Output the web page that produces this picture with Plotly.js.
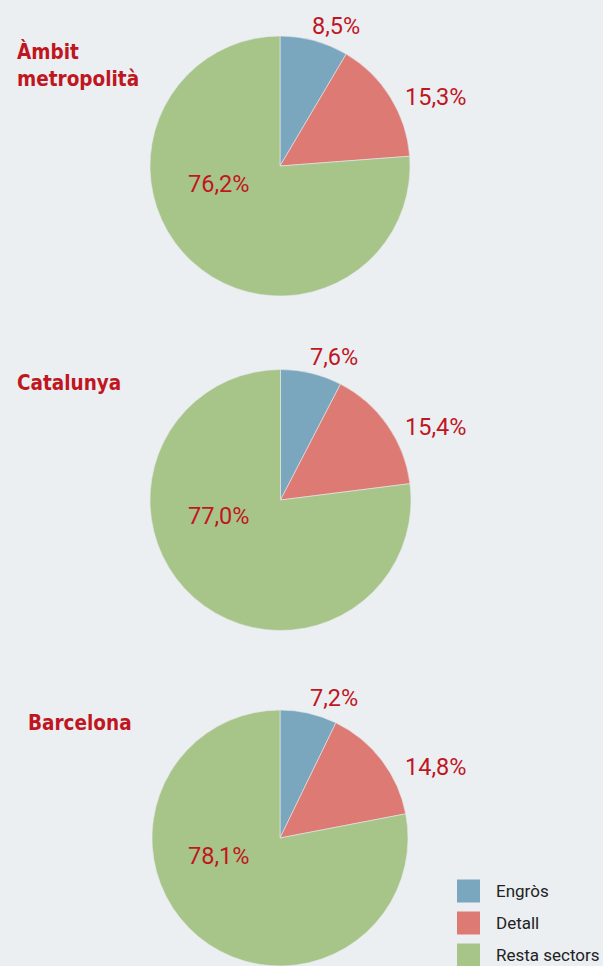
<!DOCTYPE html>
<html><head><meta charset="utf-8">
<script src="https://cdn.plot.ly/plotly-3.0.1.min.js"></script>
<style>html,body{margin:0;padding:0;background:#ebeff2;overflow:hidden}</style>
</head><body><div id="chart" style="width:603px;height:966px"></div>
<script>
const categories = ['Engròs', 'Detall', 'Resta sectors'];
const regions = ['Àmbit<br>metropolità', 'Catalunya', 'Barcelona'];
const metropolitaValues = [8.5, 15.3, 76.2];
const catalunyaValues = [7.6, 15.4, 77.0];
const barcelonaValues = [7.2, 14.8, 78.1];
const colors = ['#7aa7bd', '#de7a74', '#a8c589'];

const W = 603, H = 966;
const seriesList = [metropolitaValues, catalunyaValues, barcelonaValues];
const pieBoxes = [
  {x0: 150, x1: 410, top: 36, bottom: 296},
  {x0: 150, x1: 411, top: 369, bottom: 631},
  {x0: 151, x1: 409, top: 710, bottom: 966}
];
const labelPos = [
  [[336, 26], [435, 97], [218, 184]],
  [[334, 357], [435, 427], [218, 516]],
  [[334, 698], [435, 767], [218, 856]]
];
const titlePos = [[15, 65], [15, 383], [26, 723]];

const red = '#c0161f';
const fmt = v => v.toFixed(1).replace('.', ',') + '%';

const traces = seriesList.map((vals, i) => ({
  type: 'pie',
  values: vals,
  labels: categories,
  sort: false,
  direction: 'clockwise',
  rotation: 0,
  textinfo: 'none',
  hoverinfo: 'label+percent',
  marker: {colors: colors, line: {width: 0.6, color: '#e4e9ec'}},
  showlegend: false,
  domain: {
    x: [pieBoxes[i].x0 / W, pieBoxes[i].x1 / W],
    y: [1 - pieBoxes[i].bottom / H, 1 - pieBoxes[i].top / H]
  }
}));

const annotations = [];
seriesList.forEach((vals, i) => {
  vals.forEach((v, j) => {
    annotations.push({
      xref: 'paper', yref: 'paper',
      x: labelPos[i][j][0] / W, y: 1 - labelPos[i][j][1] / H,
      xanchor: 'center', yanchor: 'middle',
      text: fmt(v), showarrow: false,
      font: {family: 'Roboto, sans-serif', size: 23.5, color: red}
    });
  });
  annotations.push({
    xref: 'paper', yref: 'paper',
    x: titlePos[i][0] / W, y: 1 - titlePos[i][1] / H,
    xanchor: 'left', yanchor: 'middle', align: 'left',
    text: '<b>' + regions[i] + '</b>', showarrow: false,
    font: {family: '"DejaVu Sans Condensed", "DejaVu Sans", sans-serif', size: 20.5, color: red}
  });
});

const shapes = [];
categories.forEach((c, k) => {
  const cy = 891 + k * 32;
  shapes.push({
    type: 'rect', xref: 'paper', yref: 'paper',
    x0: 457 / W, x1: 480 / W, y0: 1 - (cy + 11.5) / H, y1: 1 - (cy - 11.5) / H,
    fillcolor: colors[k], line: {width: 0}
  });
  annotations.push({
    xref: 'paper', yref: 'paper', x: 494 / W, y: 1 - cy / H,
    xanchor: 'left', yanchor: 'middle', text: c, showarrow: false,
    font: {family: 'Roboto, sans-serif', size: 17, color: '#222'}
  });
});

Plotly.newPlot('chart', traces, {
  width: W, height: H,
  margin: {l: 0, r: 0, t: 0, b: 0},
  paper_bgcolor: '#ebeff2',
  plot_bgcolor: '#ebeff2',
  separators: ',.',
  showlegend: false,
  annotations: annotations,
  shapes: shapes
}, {displayModeBar: false, staticPlot: true});
</script></body></html>
